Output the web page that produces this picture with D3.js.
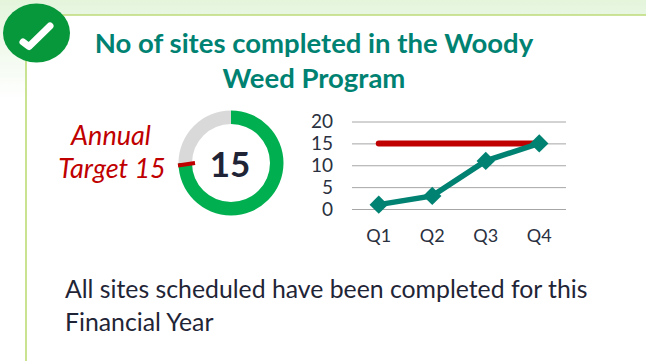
<!DOCTYPE html>
<html><head><meta charset="utf-8">
<script src="https://cdn.jsdelivr.net/npm/d3@7"></script>
<style>html,body{margin:0;padding:0;background:#fff}svg{display:block}text{font-family:Lato,"Open Sans",sans-serif}</style>
</head><body><svg id="c" width="646" height="361"></svg>
<script>
const quarters = ["Q1","Q2","Q3","Q4"];
const actual = [1,3,11,15];
const target = [15,15,15,15];
const yTicks = [0,5,10,15,20];
const donutValues = [15,5];
const donutColors = ["#00b050","#d9d9d9"];
const titleLines = ["No of sites completed in the Woody","Weed Program"];
const targetLines = ["Annual","Target 15"];
const noteLines = ["All sites scheduled have been completed for this","Financial Year"];
const centerLabel = "15";

const svg = d3.select("#c");
const defs = svg.append("defs");
const g1 = defs.append("linearGradient").attr("id","bg").attr("x1",0).attr("x2",0).attr("y1",0).attr("y2",1);
g1.append("stop").attr("offset","0%").attr("stop-color","#e4f5dc");
g1.append("stop").attr("offset","100%").attr("stop-color","#ffffff");
svg.append("rect").attr("width",646).attr("height",100).attr("fill","url(#bg)");
svg.append("rect").attr("x",26).attr("y",15).attr("width",620).attr("height",346).attr("fill","#fff");
svg.append("path").attr("d","M26 361V15H646").attr("fill","none").attr("stroke","#bcdc78").attr("stroke-width",1.6);

// badge
svg.append("ellipse").attr("cx",36.5).attr("cy",33).attr("rx",33.5).attr("ry",29.5).attr("fill","#07983c");
svg.append("path").attr("d","M23 42L29 46.5L50 26").attr("fill","none").attr("stroke","#fff").attr("stroke-width",7).attr("stroke-linecap","round").attr("stroke-linejoin","round");

// title
svg.append("g").selectAll("text").data(titleLines).join("text")
  .attr("x",314).attr("y",(d,i)=>53+i*35).attr("text-anchor","middle")
  .attr("font-size",27.5).attr("font-weight",700).attr("fill","#008272").text(d=>d);

// donut
const cx=231, cy=163;
const pie = d3.pie().sort(null)(donutValues);
const arc = d3.arc().innerRadius(39).outerRadius(52.5);
const dg = svg.append("g").attr("transform",`translate(${cx},${cy})`);
dg.selectAll("path").data(pie).join("path").attr("d",arc).attr("fill",(d,i)=>donutColors[i]);
dg.append("text").attr("x",-1).attr("y",14).attr("text-anchor","middle").attr("font-size",35).attr("font-weight",700).attr("fill","#1f2536").text(centerLabel);
svg.append("line").attr("x1",178).attr("y1",165.5).attr("x2",195).attr("y2",163).attr("stroke","#c00000").attr("stroke-width",4);

svg.append("g").selectAll("text").data(targetLines).join("text")
  .attr("x",(d,i)=>[111,112][i]).attr("y",(d,i)=>145+i*33).attr("text-anchor","middle")
  .attr("font-size",27).attr("font-style","italic").attr("fill","#c00000").text(d=>d);

// line chart
const x = d3.scaleBand().domain(quarters).range([352,566]);
const y = d3.scaleLinear().domain([0,20]).range([209,121.5]);
const px = d=>x(d)+x.bandwidth()/2;
const gridG = svg.append("g").attr("transform","translate(352,0)")
  .call(d3.axisLeft(y).tickValues(yTicks).tickSize(-214).tickPadding(19).tickFormat(d3.format("d")));
gridG.select(".domain").remove();
gridG.selectAll("line").attr("stroke","#a6a6a6").attr("stroke-width",1);
gridG.selectAll("text").attr("font-size",19).attr("fill","#2a3040");
const xG = svg.append("g").attr("transform","translate(0,209)")
  .call(d3.axisBottom(x).tickSize(0).tickPadding(20));
xG.select(".domain").remove();
xG.selectAll("text").attr("font-size",18).attr("fill","#2a3040");

const line = d3.line().x((d,i)=>px(quarters[i])).y(d=>y(d));
svg.append("path").attr("d",line(target)).attr("fill","none").attr("stroke","#c00000").attr("stroke-width",6).attr("stroke-linecap","round");
svg.append("path").attr("d",line(actual)).attr("fill","none").attr("stroke","#008272").attr("stroke-width",5.5);
svg.append("g").selectAll("path").data(actual).join("path")
  .attr("transform",(d,i)=>`translate(${px(quarters[i])},${y(d)}) rotate(45)`)
  .attr("d","M-6.5 -6.5H6.5V6.5H-6.5Z").attr("fill","#008272");

// note
svg.append("g").selectAll("text").data(noteLines).join("text")
  .attr("x",65).attr("y",(d,i)=>298+i*33).attr("font-size",24.8).attr("fill","#1f2536").text(d=>d);
</script></body></html>
